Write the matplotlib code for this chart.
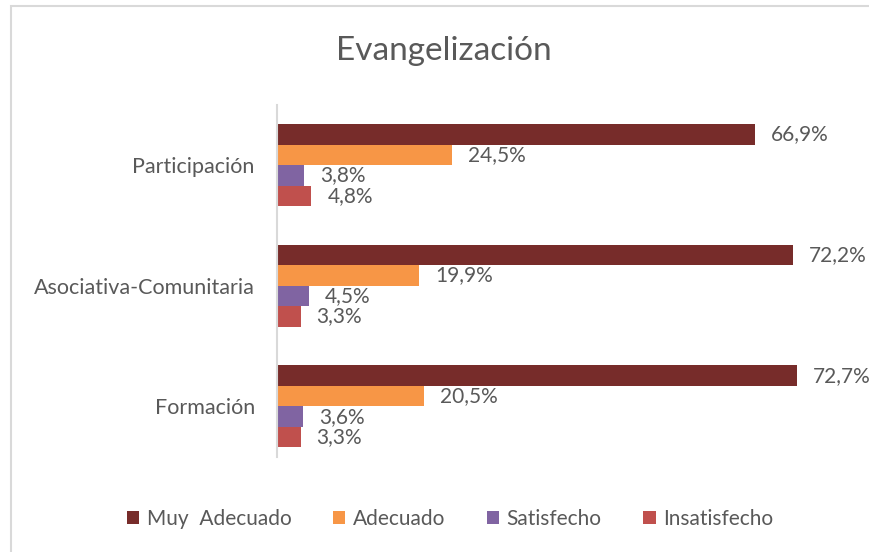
import matplotlib
matplotlib.use('Agg')
import matplotlib.pyplot as plt
from matplotlib.patches import Rectangle
import numpy as np

plt.rcParams['font.family'] = ['Lato', 'DejaVu Sans']

# data (bottom to top, as in the chart)
categories = ['Formación', 'Asociativa-Comunitaria', 'Participación']
series_names = ['Muy  Adecuado', 'Adecuado', 'Satisfecho', 'Insatisfecho']
muy_adecuado = [72.7, 72.2, 66.9]
adecuado = [20.5, 19.9, 24.5]
satisfecho = [3.6, 4.5, 3.8]
insatisfecho = [3.3, 3.3, 4.8]
colors = ['#772C2A', '#F79646', '#8064A2', '#C0504D']

text_color = '#595959'

fig = plt.figure(figsize=(8.7, 5.52), dpi=100)

# chart border (light gray, runs off right/bottom edge)
fig.patches.append(Rectangle((11 / 870, -0.1), 1.2, 1 - 6 / 552 + 0.1,
                             transform=fig.transFigure, fill=False,
                             edgecolor='#D9D9D9', linewidth=1.5))

ax = fig.add_axes([277 / 870, 1 - 457 / 552, 572 / 870, 352 / 552])

y = np.arange(len(categories))
h = 0.17
all_vals = [muy_adecuado, adecuado, satisfecho, insatisfecho]
for i, (name, vals, c) in enumerate(zip(series_names, all_vals, colors)):
    pos = y + (1.5 - i) * h
    bars = ax.barh(pos, vals, height=h, color=c, label=name)
    for b, v in zip(bars, vals):
        ax.annotate(f'{v:.1f}%'.replace('.', ','),
                    (b.get_width(), b.get_y() + b.get_height() / 2),
                    xytext=(16, 0), textcoords='offset pixels',
                    va='center', ha='left', fontsize=15, color=text_color)

ax.set_xlim(0, 80)
ax.set_ylim(-0.42, 2.5)
ax.set_yticks(y)
ax.set_yticklabels(categories, fontsize=15.5, color=text_color)
ax.tick_params(axis='y', length=0, pad=16)
ax.set_xticks([])
for s in ['top', 'right', 'bottom']:
    ax.spines[s].set_visible(False)
ax.spines['left'].set_color('#D9D9D9')
ax.spines['left'].set_linewidth(1.5)

fig.text(444 / 870, 1 - 51 / 552, 'Evangelización', ha='center', va='center',
         fontsize=24, color=text_color)

handles, labels = ax.get_legend_handles_labels()
fig.legend(handles, labels, loc='center', bbox_to_anchor=(450 / 870, 1 - 519 / 552),
           ncol=4, frameon=False, fontsize=15, labelcolor=text_color,
           handlelength=0.6, handleheight=0.6, handletextpad=0.35, columnspacing=2.0)

fig.savefig('out.png', dpi=100)
